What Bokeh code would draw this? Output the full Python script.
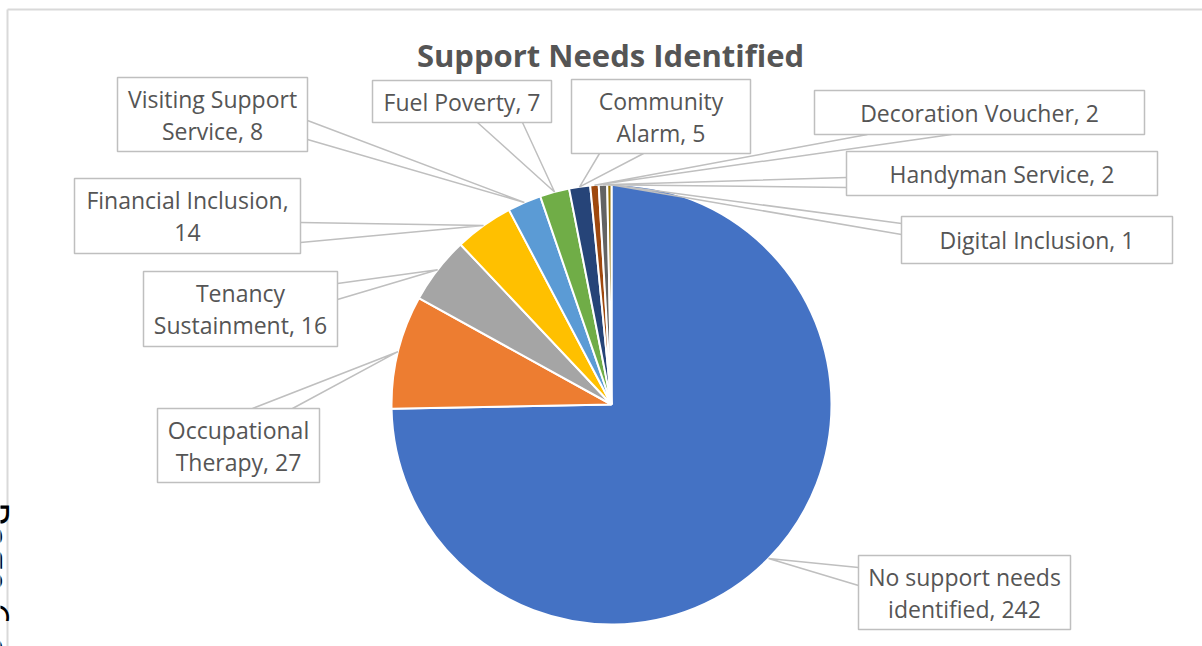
import numpy as np
from bokeh.plotting import figure
from bokeh.models import Range1d
from bokeh.core.properties import value
from bokeh.embed import file_html
from bokeh.resources import INLINE

# ---------------- data ----------------
categories = ["No support needs identified", "Occupational Therapy", "Tenancy Sustainment",
              "Financial Inclusion", "Visiting Support Service", "Fuel Poverty",
              "Community Alarm", "Decoration Voucher", "Handyman Service", "Digital Inclusion"]
counts = [242, 27, 16, 14, 8, 7, 5, 2, 2, 1]
colors = ["#4472C4", "#ED7D31", "#A5A5A5", "#FFC000", "#5B9BD5", "#70AD47",
          "#264478", "#9E480E", "#636363", "#997300"]
title_text = "Support Needs Identified"
page_text = "Page 6 of 8"

# ---------------- layout (pixels, y downwards) ----------------
W, H = 1202, 646
CX, CY, R = 611, 404, 220
# words on first line of each label (None = single line)
wrap_words = [3, 1, 1, 2, 2, None, 1, None, None, None]
# callout boxes: left, top, right, bottom
boxes = [(858, 555, 1070, 629), (157, 408, 319, 482), (143, 271, 337, 346),
         (74, 178, 300, 253), (117, 77, 307, 151), (372, 80, 551, 122),
         (571, 79, 750, 153), (814, 90, 1144, 134), (846, 151, 1157, 195),
         (901, 216, 1172, 263)]
# the two points where each callout pointer leaves its box
attach = [((858, 567), (858, 585)), ((252, 408), (292, 408)), ((337, 283), (337, 299)),
          ((300, 222), (300, 242)), ((307, 120), (307, 139)), ((477, 122), (522, 122)),
          ((599, 153), (643, 153)), ((867, 134), (951, 134)), ((846, 177), (846, 187)),
          ((901, 223), (901, 234))]

FONT = "Open Sans"
TXT = "#555555"
LINE = "#BFBFBF"

p = figure(width=W, height=H, x_range=Range1d(0, W), y_range=Range1d(-H, 0),
           output_backend="svg", toolbar_location=None, min_border=0,
           x_axis_location=None, y_axis_location=None)
p.grid.visible = False
p.outline_line_color = None
p.background_fill_color = "white"

# outer chart-area border (partial, as in the screenshot)
p.segment(x0=[7, 7], y0=[-9, -9], x1=[W, 7], y1=[-9, -H], line_color="#D9D9D9", line_width=2)

# wedges, clockwise from 12 o'clock
vals = np.array(counts, dtype=float)
total = vals.sum()
cum = np.concatenate([[0], np.cumsum(vals)])
ang_top = np.pi / 2 - 2 * np.pi * cum[:-1] / total
ang_bot = np.pi / 2 - 2 * np.pi * cum[1:] / total
mid = (ang_top + ang_bot) / 2

p.wedge(x=CX, y=-CY, radius=R, start_angle=list(ang_bot), end_angle=list(ang_top),
        fill_color=colors, line_color="white", line_width=2)

# leader pointers
xs, ys = [], []
for i, (a1, a2) in enumerate(attach):
    apx = CX + R * np.cos(mid[i])
    apy = CY - R * np.sin(mid[i])
    xs.append([a1[0], apx, a2[0]])
    ys.append([-a1[1], -apy, -a2[1]])
p.multi_line(xs=xs, ys=ys, line_color=LINE, line_width=1.5)

# boxes
p.quad(left=[b[0] for b in boxes], right=[b[2] for b in boxes],
       top=[-b[1] for b in boxes], bottom=[-b[3] for b in boxes],
       fill_color="white", line_color=LINE, line_width=1.5)

# label texts
tx, ty, tt = [], [], []
for i, (cat, v) in enumerate(zip(categories, counts)):
    full = f"{cat}, {v}"
    words = full.split(" ")
    if wrap_words[i] is None:
        lines = [full]
    else:
        lines = [" ".join(words[:wrap_words[i]]), " ".join(words[wrap_words[i]:])]
    l, t, r, b = boxes[i]
    cx = (l + r) / 2
    cy = (t + b) / 2
    n = len(lines)
    for k, ln in enumerate(lines):
        tx.append(cx)
        ty.append(-(cy + (k - (n - 1) / 2) * 32))
        tt.append(ln)
p.text(x=tx, y=ty, text=tt, text_font=value(FONT), text_font_size="23px",
       text_color=TXT, text_align="center", text_baseline="middle")

# title
p.text(x=[610], y=[-54], text=[title_text], text_font=value(FONT), text_font_size="31px",
       text_font_style="bold", text_color=TXT, text_align="center", text_baseline="middle")

# cropped page footer text at the left edge (only its top sliver shows, as in the screenshot)
p.text(x=[-5], y=[-501], text=[page_text], angle=-np.pi / 2, text_font=value(FONT),
       text_font_size="40px", text_color="black", text_align="left",
       text_baseline="alphabetic")

open("out.html", "w").write(file_html(p, INLINE))
